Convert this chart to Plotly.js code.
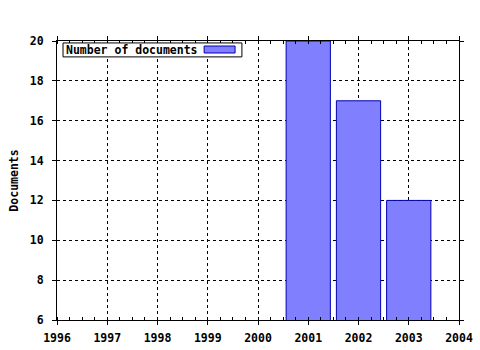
<!DOCTYPE html>
<html><head><meta charset="utf-8">
<script src="https://cdn.plot.ly/plotly-3.0.1.min.js"></script>
<style>body{margin:0;background:#fff}#c{width:480px;height:350px}</style>
</head><body><div id="c"></div>
<script>
const years = [2001, 2002, 2003];
const documents = [20, 17, 12];
const seriesName = "Number of documents";
const yTitle = "Documents";
const xTicks = [1996, 1997, 1998, 1999, 2000, 2001, 2002, 2003, 2004];
const yTicks = [6, 8, 10, 12, 14, 16, 18, 20];

const boldFont = {family: "DejaVu Sans Mono", size: 11.5, color: "#000", weight: "bold"};
const data = [{
  type: "bar", x: years, y: documents, name: seriesName, width: 0.88,
  marker: {color: "#8080ff", line: {color: "#0000b0", width: 1}},
  showlegend: false, hoverinfo: "skip"
}];
const axisCommon = {
  showline: true, linecolor: "#000", linewidth: 1, mirror: "ticks",
  ticks: "outside", ticklen: 4, tickcolor: "#000",
  showgrid: true, gridcolor: "#000", griddash: "dot", gridwidth: 1,
  zeroline: false, tickfont: boldFont
};
const layout = {
  width: 480, height: 350, paper_bgcolor: "#fff", plot_bgcolor: "#fff",
  margin: {l: 57, r: 21, t: 41, b: 30},
  font: boldFont, bargap: 0,
  xaxis: Object.assign({}, axisCommon, {range: [1996, 2004], tickvals: xTicks, ticktext: xTicks.map(String),
    ticklabelstandoff: 3,
    minor: {dtick: 0.25, ticks: "inside", ticklen: 3, tickcolor: "#000", showgrid: false}}),
  yaxis: Object.assign({}, axisCommon, {range: [6, 20], tickvals: yTicks, ticktext: yTicks.map(String),
    ticklabelstandoff: 6,
    title: {text: yTitle, standoff: 8, font: boldFont}}),
  annotations: [{
    xref: "paper", yref: "paper", x: 0.018, y: 0.968, xanchor: "left", yanchor: "middle",
    text: seriesName, showarrow: false, align: "left", font: boldFont
  }],
  shapes: [{
    type: "rect", xref: "paper", yref: "paper", x0: 0.015, x1: 0.460, y0: 0.943, y1: 0.993,
    fillcolor: "#fff", line: {color: "#000", width: 1}, layer: "above"
  }, {
    type: "rect", xref: "paper", yref: "paper", x0: 0.366, x1: 0.443, y0: 0.957, y1: 0.982,
    fillcolor: "#8080ff", line: {color: "#0000b0", width: 1}, layer: "above"
  }]
};
Plotly.newPlot("c", data, layout, {staticPlot: true, displayModeBar: false});
</script></body></html>
